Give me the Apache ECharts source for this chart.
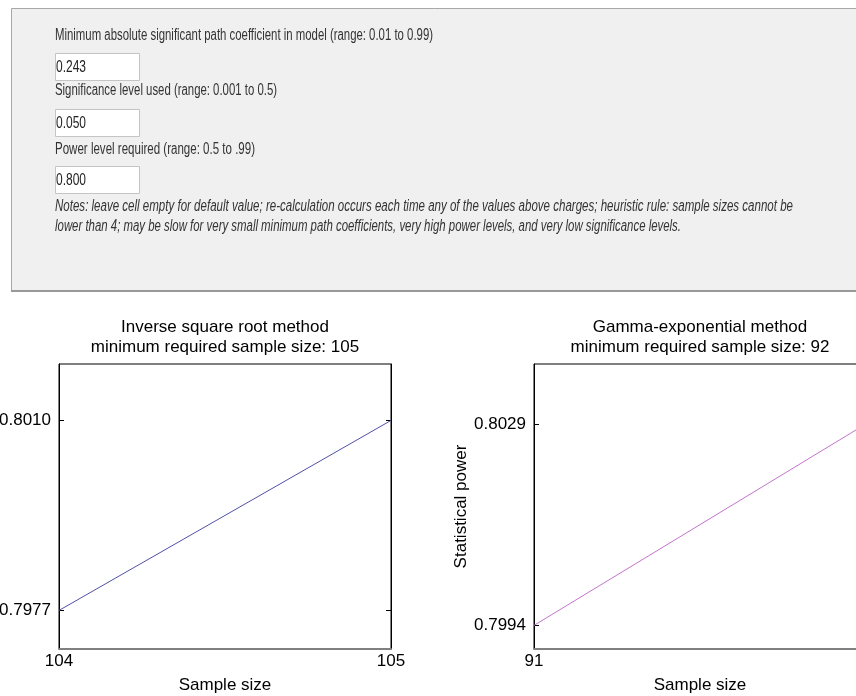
<!DOCTYPE html>
<html><head><meta charset="utf-8">
<script src="https://cdn.jsdelivr.net/npm/echarts@6/dist/echarts.min.js"></script>
<style>html,body{margin:0;padding:0;background:#fff;overflow:hidden}#chart{width:856px;height:696px}</style>
</head><body><div id="chart"></div>
<script>
// ---- Data ----
const leftSampleSizes = [104, 105];
const leftPower = [0.7977, 0.8010];
const leftYTicks = [0.7977, 0.8010];
const rightSampleSizes = [91, 92];
const rightPower = [0.7994, 0.8029];
const rightYTicks = [0.7994, 0.8029];
const leftTitle = ['Inverse square root method', 'minimum required sample size: 105'];
const rightTitle = ['Gamma-exponential method', 'minimum required sample size: 92'];
const formLabels = [
  'Minimum absolute significant path coefficient in model (range: 0.01 to 0.99)',
  'Significance level used (range: 0.001 to 0.5)',
  'Power level required (range: 0.5 to .99)'
];
const formValues = ['0.243', '0.050', '0.800'];
const notes = [
  'Notes: leave cell empty for default value; re-calculation occurs each time any of the values above charges; heuristic rule: sample sizes cannot be',
  'lower than 4; may be slow for very small minimum path coefficients, very high power levels, and very low significance levels.'
];

// ---- Layout ----
const FONT = '"Liberation Sans", Arial, sans-serif';
const mctx = document.createElement('canvas').getContext('2d');
function fit(text, size, italic, target) {
  mctx.font = (italic ? 'italic ' : '') + size + 'px ' + FONT;
  return target / mctx.measureText(text).width;
}
const labelY = [36, 91, 150];
const labelW = [378, 222, 200];
const boxY = [53, 109, 166];
const noteY = [207, 227];
const noteW = [738, 626];

const graphic = [];
graphic.push({type: 'rect', shape: {x: 11.5, y: 8.5, width: 900, height: 283},
  style: {fill: '#f0f0f0', stroke: '#a8a8a8', lineWidth: 1}});
graphic.push({type: 'line', shape: {x1: 11, y1: 291, x2: 900, y2: 291},
  style: {stroke: '#999', lineWidth: 2}});
formLabels.forEach((t, i) => {
  graphic.push({type: 'text', x: 55, y: labelY[i], scaleX: fit(t, 16, false, labelW[i]),
    style: {text: t, fontSize: 16, fontFamily: FONT, fill: '#333', verticalAlign: 'middle', align: 'left'}});
  graphic.push({type: 'rect', shape: {x: 55.5, y: boxY[i] + 0.5, width: 84, height: 27},
    style: {fill: '#fff', stroke: '#c4c4c4', lineWidth: 1}});
  graphic.push({type: 'text', x: 56, y: boxY[i] + 15, scaleX: fit(formValues[i], 16, false, 30),
    style: {text: formValues[i], fontSize: 16, fontFamily: FONT, fill: '#222', verticalAlign: 'middle', align: 'left'}});
});
notes.forEach((t, i) => {
  graphic.push({type: 'text', x: 55, y: noteY[i], scaleX: fit(t, 16, true, noteW[i]),
    style: {text: t, fontSize: 16, fontStyle: 'italic', fontFamily: FONT, fill: '#333', verticalAlign: 'middle', align: 'left'}});
});
[[leftTitle, 225], [rightTitle, 700]].forEach(([lines, cx]) => {
  lines.forEach((t, i) => {
    graphic.push({type: 'text', x: cx, y: 327 + i * 20,
      style: {text: t, fontSize: 17, fontFamily: FONT, fill: '#000', align: 'center', verticalAlign: 'middle'}});
  });
});

const grids = [
  {left: 59, top: 364, width: 332, height: 285},
  {left: 534, top: 364, width: 332, height: 285}
];
const yRanges = [[0.79703, 0.80198], [0.79899, 0.80394]];
const xs = [leftSampleSizes, rightSampleSizes];
const ys = [leftPower, rightPower];
const ticks = [leftYTicks, rightYTicks];
const colors = ['#5050a8', '#c474cc'];

const option = {
  animation: false,
  backgroundColor: '#fff',
  graphic: graphic,
  grid: grids.map(g => Object.assign({show: true, borderColor: '#000', borderWidth: 1, backgroundColor: '#fff',
    containLabel: false, outerBoundsMode: 'none'}, g)),
  xAxis: [0, 1].map(i => ({
    gridIndex: i, type: 'value', min: xs[i][0], max: xs[i][1], interval: 1,
    axisLine: {show: true, onZero: false, lineStyle: {color: '#808080', width: 2}},
    axisTick: {show: false}, splitLine: {show: false},
    axisLabel: {fontSize: 17, color: '#000', fontFamily: FONT, margin: 4, showMinLabel: true, showMaxLabel: true},
    name: 'Sample size', nameLocation: 'middle', nameGap: 28,
    nameTextStyle: {fontSize: 17, color: '#000', fontFamily: FONT}
  })),
  yAxis: [0, 1].flatMap(i => [
    Object.assign({
      gridIndex: i, type: 'value', min: yRanges[i][0], max: yRanges[i][1],
      splitLine: {show: false},
      axisLine: {show: true, lineStyle: {color: '#000', width: 1}},
      axisTick: {show: true, inside: true, length: 5, customValues: ticks[i], lineStyle: {color: '#000'}},
      axisLabel: {customValues: ticks[i], formatter: v => v.toFixed(4), fontSize: 17, color: '#000', fontFamily: FONT, margin: 8}
    }, i === 1 ? {name: 'Statistical power', nameLocation: 'middle', nameGap: 63,
      nameTextStyle: {fontSize: 17, color: '#000', fontFamily: FONT}} : {}),
    {
      gridIndex: i, type: 'value', position: 'right', min: yRanges[i][0], max: yRanges[i][1],
      splitLine: {show: false},
      axisLine: {show: true, lineStyle: {color: '#000', width: 1}},
      axisTick: {show: true, inside: true, length: 5, customValues: ticks[i], lineStyle: {color: '#000'}},
      axisLabel: {show: false}
    }
  ]),
  series: [0, 1].map(i => ({
    type: 'line', xAxisIndex: i, yAxisIndex: i * 2,
    data: xs[i].map((x, k) => [x, ys[i][k]]),
    showSymbol: false, silent: true,
    lineStyle: {width: 1, color: colors[i]}
  }))
};
const chart = echarts.init(document.getElementById('chart'), null, {renderer: 'canvas'});
chart.setOption(option);
</script>
</body></html>
